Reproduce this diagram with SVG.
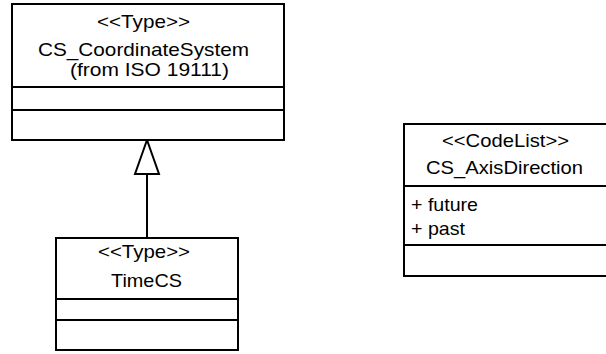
<svg xmlns="http://www.w3.org/2000/svg" width="606" height="354" viewBox="0 0 606 354">
<style>
.box{fill:#ffffff;stroke:#000000;stroke-width:2}
.ln{stroke:#000000;stroke-width:2;fill:none}
.t{font-family:"Liberation Sans",Arial,sans-serif;font-size:19px;fill:#000000}
</style>
<rect width="606" height="354" fill="#ffffff"/>
<g id="connectors">
<line class="ln" x1="147" y1="174" x2="147" y2="238"/>
<polygon class="ln" points="147,140 135,174 159,174" fill="#ffffff"/>
</g>
<g id="CS_CoordinateSystem">
<rect class="box" x="12" y="4" width="272" height="136"/>
<line class="ln" x1="12" y1="87" x2="284" y2="87"/>
<line class="ln" x1="12" y1="110" x2="284" y2="110"/>
<text class="t" x="97" y="28" textLength="93" lengthAdjust="spacingAndGlyphs">&lt;&lt;Type&gt;&gt;</text>
<text class="t" x="38" y="56" textLength="211" lengthAdjust="spacingAndGlyphs">CS_CoordinateSystem</text>
<text class="t" x="70" y="76" textLength="159" lengthAdjust="spacingAndGlyphs">(from ISO 19111)</text>
</g>
<g id="TimeCS">
<rect class="box" x="56" y="238" width="182" height="112"/>
<line class="ln" x1="56" y1="299" x2="238" y2="299"/>
<line class="ln" x1="56" y1="320" x2="238" y2="320"/>
<text class="t" x="98" y="258" textLength="92" lengthAdjust="spacingAndGlyphs">&lt;&lt;Type&gt;&gt;</text>
<text class="t" x="111" y="287" textLength="71" lengthAdjust="spacingAndGlyphs">TimeCS</text>
</g>
<g id="CS_AxisDirection">
<rect class="box" x="404" y="124" width="210" height="152"/>
<line class="ln" x1="404" y1="186" x2="610" y2="186"/>
<line class="ln" x1="404" y1="245" x2="610" y2="245"/>
<text class="t" x="442" y="147" textLength="127" lengthAdjust="spacingAndGlyphs">&lt;&lt;CodeList&gt;&gt;</text>
<text class="t" x="426" y="174" textLength="157" lengthAdjust="spacingAndGlyphs">CS_AxisDirection</text>
<text class="t" x="411" y="211" textLength="67" lengthAdjust="spacingAndGlyphs">+ future</text>
<text class="t" x="411" y="235" textLength="54" lengthAdjust="spacingAndGlyphs">+ past</text>
</g>
</svg>
